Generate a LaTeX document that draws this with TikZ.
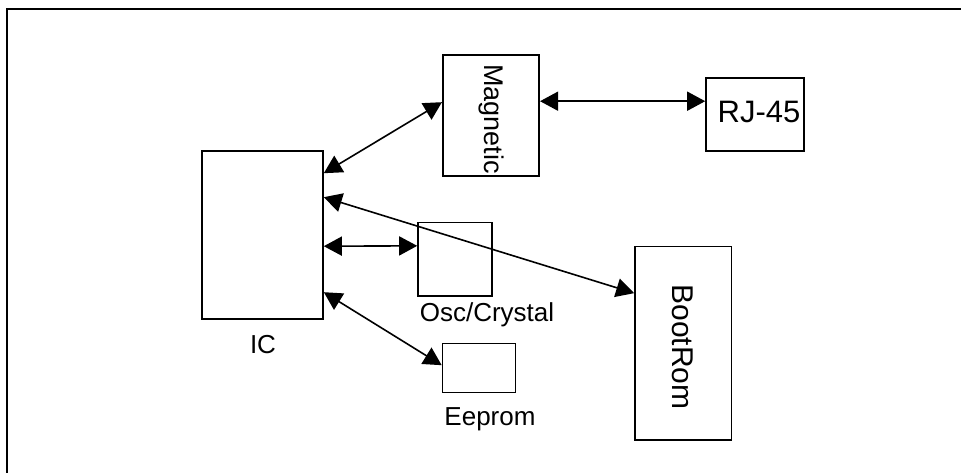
\documentclass[tikz,border=0pt]{standalone}
\usepackage{fontspec}
\setmainfont{Liberation Sans}
\usetikzlibrary{arrows.meta,calc}

\begin{document}
\begin{tikzpicture}[x=1pt, y=-1pt,
        blk/.style={draw, line width=1.6pt, inner sep=0pt},
        link/.style={line width=1.6pt,
            {Triangle[length=18pt,width=19pt]}-{Triangle[length=18pt,width=19pt]}},
        txt/.style={inner sep=0pt, font=\fontsize{26}{31}\selectfont}]
        \useasboundingbox (0,0) rectangle (961,473);
        \clip (0,0) rectangle (961,473);

        % Frame, only its top and left edges fall inside the picture
        \draw[line width=2pt] (7.3,480) |- (970,9);

        % Blocks
        \node[blk, minimum width=121pt, minimum height=168pt] (ic) at (262.5,235) {};
        \node[blk, minimum width=96.5pt, minimum height=121pt] (mag) at (491,115.5) {};
        \node[blk, minimum width=98pt, minimum height=73pt] (rj) at (755,114.5) {};
        \node[blk, minimum width=74pt, minimum height=73.3pt] (osc) at (455,259.3) {};
        \node[blk, minimum width=73pt, minimum height=49pt] (eep) at (479,367.8) {};
        \node[blk, minimum width=96.7pt, minimum height=193.3pt] (boot) at (683.3,343.3) {};

        % Texts
        \node[txt, anchor=base] (ic-lbl) at (263,353) {IC};
        \node[txt, anchor=base] (osc-lbl) at (487,321.7) {Osc/Crystal};
        \node[txt, anchor=base] (eep-lbl) at (490,425) {Eeprom};
        \node[txt, rotate=-90, font=\fontsize{27}{32}\selectfont] (mag-lbl) at (491,119) {Magnetic};
        \node[txt, rotate=-90, font=\fontsize{30}{36}\selectfont] (boot-lbl) at (683,347) {BootRom};
        \node[txt, font=\fontsize{31}{37}\selectfont] (rj-lbl) at (759,112) {RJ-45};

        % Links
        \draw[link] ($(ic.north east)+(0,23)$) -- ($(mag.north west)+(0,48)$);
        \draw[link] ($(mag.north east)+(0,47)$) -- ($(rj.north west)+(0,24)$);
        \draw[link] ($(ic.north east)+(0,47)$) -- ($(boot.north west)+(0,47.3)$);
        \draw[link] ($(ic.north east)+(0,96)$) -- ($(osc.north west)+(0,24)$);
        \draw[link] ($(ic.north east)+(0,142)$) -- ($(eep.north west)+(0,22.7)$);
\end{tikzpicture}
\end{document}
